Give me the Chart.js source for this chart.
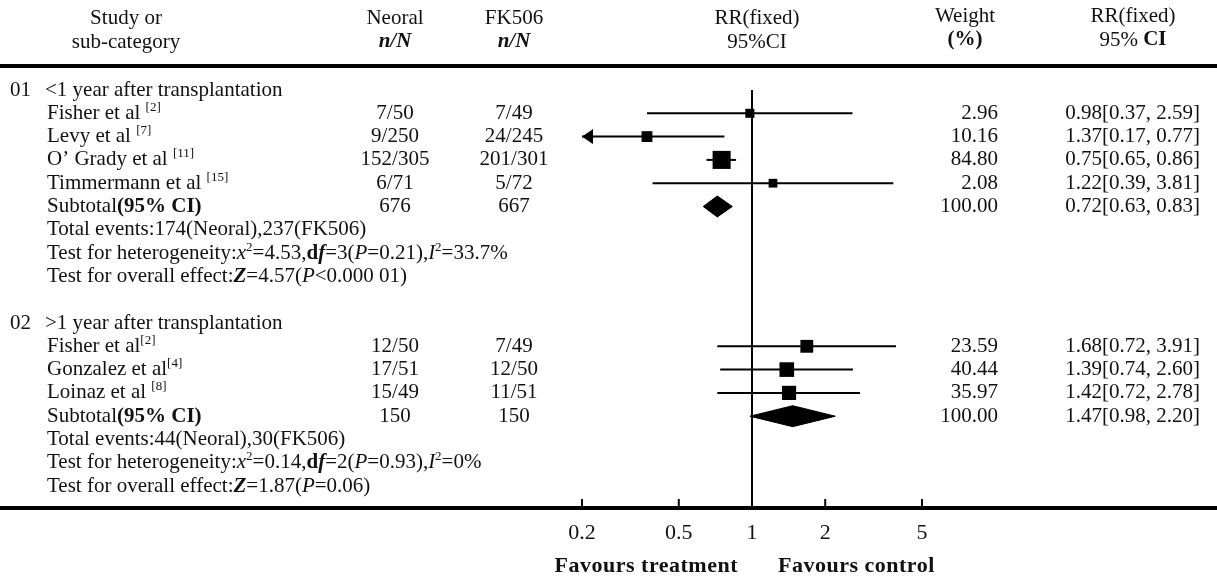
<!DOCTYPE html>
<html>
<head>
<meta charset="utf-8">
<script src="https://cdn.jsdelivr.net/npm/chart.js@4/dist/chart.umd.min.js"></script>
<style>
html,body{margin:0;padding:0;background:#fff;}
#wrap{width:1217px;height:584px;position:relative;}
</style>
</head>
<body>
<div id="wrap"><canvas id="c"></canvas></div>
<script>
// ---------------- data ----------------
const xTicks = [0.2, 0.5, 1, 2, 5];
const xMin = 0.2, xMax = 5;

const groupNumbers = ['01', '02'];
const groupTitles = ['<1 year after transplantation', '>1 year after transplantation'];

const g1Studies = ['Fisher et al ', 'Levy et al ', 'O\u2019 Grady et al ', 'Timmermann et al '];
const g1Refs = ['[2]', '[7]', '[11]', '[15]'];
const g1Neoral = ['7/50', '9/250', '152/305', '6/71'];
const g1FK506 = ['7/49', '24/245', '201/301', '5/72'];
const g1Weight = ['2.96', '10.16', '84.80', '2.08'];
const g1RR = [0.98, 0.37, 0.75, 1.22];
const g1Low = [0.37, 0.17, 0.65, 0.39];
const g1High = [2.59, 0.77, 0.86, 3.81];
const g1RRText = ['0.98[0.37, 2.59]', '1.37[0.17, 0.77]', '0.75[0.65, 0.86]', '1.22[0.39, 3.81]'];

const g2Studies = ['Fisher et al', 'Gonzalez et al', 'Loinaz et al '];
const g2Refs = ['[2]', '[4]', '[8]'];
const g2Neoral = ['12/50', '17/51', '15/49'];
const g2FK506 = ['7/49', '12/50', '11/51'];
const g2Weight = ['23.59', '40.44', '35.97'];
const g2RR = [1.68, 1.39, 1.42];
const g2Low = [0.72, 0.74, 0.72];
const g2High = [3.91, 2.60, 2.78];
const g2RRText = ['1.68[0.72, 3.91]', '1.39[0.74, 2.60]', '1.42[0.72, 2.78]'];

const subNeoral = ['676', '150'];
const subFK506 = ['667', '150'];
const subWeight = ['100.00', '100.00'];
const subRR = [0.72, 1.47];
const subLow = [0.63, 0.98];
const subHigh = [0.83, 2.20];
const subRRText = ['0.72[0.63, 0.83]', '1.47[0.98, 2.20]'];

const totalEvents = ['Total events:174(Neoral),237(FK506)', 'Total events:44(Neoral),30(FK506)'];
const heterogeneity = [
  [['Test for heterogeneity:',''],['x','i'],['2','s'],['=4.53,',''],['d','b'],['f','bi'],['=3(',''],['P','i'],['=0.21),',''],['I','i'],['2','s'],['=33.7%','']],
  [['Test for heterogeneity:',''],['x','i'],['2','s'],['=0.14,',''],['d','b'],['f','bi'],['=2(',''],['P','i'],['=0.93),',''],['I','i'],['2','s'],['=0%','']]
];
const overallEffect = [
  [['Test for overall effect:',''],['Z','bi'],['=4.57(',''],['P','i'],['<0.000 01)','']],
  [['Test for overall effect:',''],['Z','bi'],['=1.87(',''],['P','i'],['=0.06)','']]
];

// ---------------- row layout ----------------
const groups = [
  {studies:g1Studies, refs:g1Refs, neoral:g1Neoral, fk:g1FK506, weight:g1Weight, rr:g1RR, lo:g1Low, hi:g1High, rrText:g1RRText},
  {studies:g2Studies, refs:g2Refs, neoral:g2Neoral, fk:g2FK506, weight:g2Weight, rr:g2RR, lo:g2Low, hi:g2High, rrText:g2RRText}
];
let row = 0;
groups.forEach(g => {
  g.headRow = row++;
  g.rows = g.studies.map(() => row++);
  g.subRow = row++;
  g.totRow = row++;
  g.hetRow = row++;
  g.ovRow = row++;
  row++; // blank line between groups
});
const yMinRow = -1.03, yMaxRow = 17.94;

// ---------------- marker styles ----------------
const BLACK = '#000';
function arrowCanvas() {
  const c = document.createElement('canvas');
  c.width = 22; c.height = 15;
  const x = c.getContext('2d');
  x.fillStyle = BLACK;
  x.beginPath(); x.moveTo(11, 7.5); x.lineTo(22, 0); x.lineTo(22, 15); x.closePath(); x.fill();
  return c;
}
const ARROW = arrowCanvas();
const squareSide = w => 7 + 1.2 * Math.sqrt(w);

// ---------------- datasets ----------------
const datasets = [];
datasets.push({data:[{x:1, y:0}, {x:1, y:yMaxRow}], showLine:true, borderColor:BLACK, borderWidth:2, pointRadius:0});
groups.forEach(g => {
  g.rows.forEach((r, i) => {
    datasets.push({data:[{x:g.lo[i], y:r}, {x:g.hi[i], y:r}], showLine:true, borderColor:BLACK, borderWidth:2, pointRadius:0});
    if (g.lo[i] < xMin) {
      datasets.push({data:[{x:xMin, y:r}], pointStyle:ARROW, pointRadius:7, clip:false});
    }
  });
  datasets.push({
    data: g.rows.map((r, i) => ({x:g.rr[i], y:r})),
    pointStyle:'rect',
    pointRadius: g.weight.map(w => squareSide(Number(w)) / (2 * Math.SQRT1_2)),
    backgroundColor:BLACK, borderColor:BLACK, borderWidth:0
  });
});
groups.forEach((g, gi) => {
  const r = g.subRow, h = 0.45;
  datasets.push({
    data:[{x:subLow[gi], y:r}, {x:subRR[gi], y:r - h}, {x:subHigh[gi], y:r}, {x:subRR[gi], y:r + h}, {x:subLow[gi], y:r}],
    showLine:true, fill:'shape', backgroundColor:BLACK, borderColor:BLACK, borderWidth:1, pointRadius:0
  });
});

// ---------------- text / frame plugin ----------------
const FONT = '"Liberation Serif", "Times New Roman", serif';
const FS = 21;
const TXT = '#111';
function setFont(ctx, style, size) {
  ctx.font = (style.includes('i') ? 'italic ' : '') + (style.includes('b') ? 'bold ' : '') + size + 'px ' + FONT;
}
function richText(ctx, segs, x, y) {
  ctx.textAlign = 'left';
  ctx.textBaseline = 'middle';
  segs.forEach(([t, st]) => {
    const sup = st.includes('s');
    const size = sup ? Math.round(FS * 0.62) : FS;
    setFont(ctx, st, size);
    ctx.fillText(t, x, sup ? y - 6 : y);
    x += ctx.measureText(t).width;
  });
  return x;
}
function richWidth(ctx, segs) {
  let w = 0;
  segs.forEach(([t, st]) => { setFont(ctx, st, st.includes('s') ? Math.round(FS * 0.62) : FS); w += ctx.measureText(t).width; });
  return w;
}
function txt(ctx, t, x, y, align, style) {
  setFont(ctx, style || '', FS);
  ctx.textAlign = align || 'left';
  ctx.textBaseline = 'middle';
  ctx.fillText(t, x, y);
}

const COL = {num:10, title:45, study:47, neoral:395, fk:514, weightR:998, rrR:1200, studyHead:126, weightHead:965, rrHead:1133, plotHeadShift:5};

const forestPlugin = {
  id: 'forest',
  afterDraw(chart) {
    const ctx = chart.ctx;
    const xs = chart.scales.x, ys = chart.scales.y;
    const area = chart.chartArea;
    const W = chart.width;
    ctx.save();
    ctx.strokeStyle = BLACK;
    ctx.lineWidth = 4;
    ctx.beginPath(); ctx.moveTo(0, area.top); ctx.lineTo(W, area.top); ctx.stroke();
    ctx.beginPath(); ctx.moveTo(0, area.bottom); ctx.lineTo(W, area.bottom); ctx.stroke();
    ctx.lineWidth = 2;
    xTicks.forEach(v => {
      const px = xs.getPixelForValue(v);
      ctx.beginPath(); ctx.moveTo(px, area.bottom - 9); ctx.lineTo(px, area.bottom); ctx.stroke();
    });

    ctx.fillStyle = TXT;
    const h1 = 18, h2 = 42;
    const px1 = xs.getPixelForValue(1);
    txt(ctx, 'Study or', COL.studyHead, h1, 'center');
    txt(ctx, 'sub-category', COL.studyHead, h2, 'center');
    txt(ctx, 'Neoral', COL.neoral, h1, 'center');
    txt(ctx, 'n/N', COL.neoral, h2, 'center', 'bi');
    txt(ctx, 'FK506', COL.fk, h1, 'center');
    txt(ctx, 'n/N', COL.fk, h2, 'center', 'bi');
    txt(ctx, 'RR(fixed)', px1 + COL.plotHeadShift, h1, 'center');
    txt(ctx, '95%CI', px1 + COL.plotHeadShift, h2, 'center');
    txt(ctx, 'Weight', COL.weightHead, h1 - 2, 'center');
    txt(ctx, '(%)', COL.weightHead, h2 - 2, 'center', 'b');
    txt(ctx, 'RR(fixed)', COL.rrHead, h1 - 2, 'center');
    const ci = [['95% ', ''], ['CI', 'b']];
    richText(ctx, ci, COL.rrHead - richWidth(ctx, ci) / 2, h2 - 2);

    groups.forEach((g, gi) => {
      const yh = ys.getPixelForValue(g.headRow);
      txt(ctx, groupNumbers[gi], COL.num, yh);
      txt(ctx, groupTitles[gi], COL.title, yh);
      g.rows.forEach((r, i) => {
        const y = ys.getPixelForValue(r);
        richText(ctx, [[g.studies[i], ''], [g.refs[i], 's']], COL.study, y);
        txt(ctx, g.neoral[i], COL.neoral, y, 'center');
        txt(ctx, g.fk[i], COL.fk, y, 'center');
        txt(ctx, g.weight[i], COL.weightR, y, 'right');
        txt(ctx, g.rrText[i], COL.rrR, y, 'right');
      });
      const yS = ys.getPixelForValue(g.subRow);
      richText(ctx, [['Subtotal', ''], ['(95% CI)', 'b']], COL.study, yS);
      txt(ctx, subNeoral[gi], COL.neoral, yS, 'center');
      txt(ctx, subFK506[gi], COL.fk, yS, 'center');
      txt(ctx, subWeight[gi], COL.weightR, yS, 'right');
      txt(ctx, subRRText[gi], COL.rrR, yS, 'right');
      txt(ctx, totalEvents[gi], COL.study, ys.getPixelForValue(g.totRow));
      richText(ctx, heterogeneity[gi], COL.study, ys.getPixelForValue(g.hetRow));
      richText(ctx, overallEffect[gi], COL.study, ys.getPixelForValue(g.ovRow));
    });

    setFont(ctx, 'b', 22);
    ctx.letterSpacing = '0.5px';
    ctx.textBaseline = 'middle';
    ctx.textAlign = 'right';
    ctx.fillText('Favours treatment', px1 - 14, 566);
    ctx.textAlign = 'left';
    ctx.fillText('Favours control', px1 + 26, 566);
    ctx.restore();
  }
};

new Chart(document.getElementById('c'), {
  type: 'scatter',
  data: {datasets},
  options: {
    responsive: true,
    maintainAspectRatio: false,
    animation: false,
    events: [],
    layout: {padding: {left: 582, right: 295, top: 66, bottom: 0}},
    plugins: {legend: {display: false}, tooltip: {enabled: false}},
    scales: {
      x: {
        type: 'logarithmic', min: xMin, max: xMax, position: 'bottom',
        afterBuildTicks: s => { s.ticks = xTicks.map(v => ({value: v})); },
        afterFit: s => { s.height = 76; },
        grid: {display: false, drawTicks: false},
        border: {display: false},
        ticks: {callback: v => String(v), font: {family: FONT, size: 22}, color: TXT, padding: 12, maxRotation: 0, autoSkip: false}
      },
      y: {type: 'linear', min: yMinRow, max: yMaxRow, reverse: true, display: false}
    }
  },
  plugins: [forestPlugin]
});
</script>
</body>
</html>
